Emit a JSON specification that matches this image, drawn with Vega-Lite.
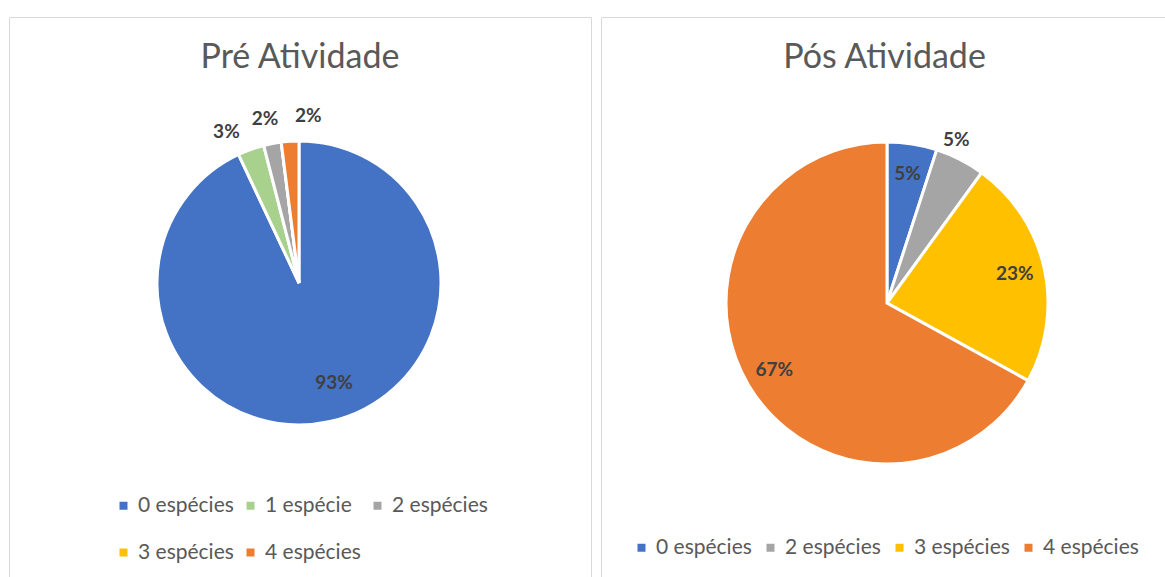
{
  "$schema": "https://vega.github.io/schema/vega-lite/v6.json",
  "padding": {"left": 8, "top": 16, "right": 0, "bottom": 0},
  "background": "white",
  "datasets": {
    "pre": [
      {"cat": "0 espécies", "pct": 0.93},
      {"cat": "1 espécie", "pct": 0.03},
      {"cat": "2 espécies", "pct": 0.02},
      {"cat": "3 espécies", "pct": 0.0},
      {"cat": "4 espécies", "pct": 0.02}
    ],
    "pos": [
      {"cat": "0 espécies", "pct": 0.05},
      {"cat": "2 espécies", "pct": 0.05},
      {"cat": "3 espécies", "pct": 0.23},
      {"cat": "4 espécies", "pct": 0.67}
    ]
  },
  "spacing": 8,
  "resolve": {"scale": {"color": "independent", "theta": "independent"}, "legend": {"color": "independent"}},
  "hconcat": [
    {
      "width": 582,
      "height": 561,
      "title": {"text": "Pré Atividade", "offset": -85, "baseline": "alphabetic"},
      "data": {"name": "pre"},
      "encoding": {
        "theta": {"field": "pct", "type": "quantitative", "stack": true},
        "order": {"field": "cat", "type": "ordinal"},
        "x": {"value": 290},
        "y": {"value": 266}
      },
      "layer": [
        {
          "mark": {"type": "arc", "outerRadius": 142, "stroke": "white", "strokeWidth": 3},
          "encoding": {
            "color": {
              "field": "cat", "type": "nominal",
              "scale": {"domain": ["0 espécies", "1 espécie", "2 espécies", "3 espécies", "4 espécies"],
                        "range": ["#4472C4", "#A9D18E", "#A5A5A5", "#FFC000", "#ED7D31"]},
              "legend": {"title": null, "orient": "none", "legendX": 104, "legendY": 478, "direction": "horizontal", "columns": 3, "gridAlign": "all", "columnPadding": 6, "rowPadding": 25}
            }
          }
        },
        {
          "mark": {"type": "text", "radius": 106, "dx": 12, "dy": -3, "fontWeight": "bold", "fontSize": 19, "color": "#404040"},
          "encoding": {"text": {"condition": {"test": "datum.pct < 0.1", "value": ""}, "field": "pct", "type": "quantitative", "format": ".0%"}}
        },
        {
          "mark": {"type": "text", "radius": 170, "dx": -15, "dy": 9, "fontWeight": "bold", "fontSize": 19, "color": "#404040"},
          "encoding": {"text": {"condition": {"test": "datum.cat != '1 espécie'", "value": ""}, "field": "pct", "type": "quantitative", "format": ".0%"}}
        },
        {
          "mark": {"type": "text", "radius": 170, "dx": -2, "dy": 3, "fontWeight": "bold", "fontSize": 19, "color": "#404040"},
          "encoding": {"text": {"condition": {"test": "datum.cat != '2 espécies'", "value": ""}, "field": "pct", "type": "quantitative", "format": ".0%"}}
        },
        {
          "mark": {"type": "text", "radius": 170, "dx": 20, "dy": 3, "fontWeight": "bold", "fontSize": 19, "color": "#404040"},
          "encoding": {"text": {"condition": {"test": "datum.cat != '4 espécies'", "value": ""}, "field": "pct", "type": "quantitative", "format": ".0%"}}
        }
      ]
    },
    {
      "width": 567,
      "height": 561,
      "title": {"text": "Pós Atividade", "offset": -85, "baseline": "alphabetic"},
      "data": {"name": "pos"},
      "encoding": {
        "theta": {"field": "pct", "type": "quantitative", "stack": true},
        "order": {"field": "cat", "type": "ordinal"},
        "x": {"value": 286},
        "y": {"value": 286}
      },
      "layer": [
        {
          "mark": {"type": "arc", "outerRadius": 161, "stroke": "white", "strokeWidth": 3},
          "encoding": {
            "color": {
              "field": "cat", "type": "nominal",
              "scale": {"domain": ["0 espécies", "2 espécies", "3 espécies", "4 espécies"],
                        "range": ["#4472C4", "#A5A5A5", "#FFC000", "#ED7D31"]},
              "legend": {"title": null, "orient": "none", "legendX": 30, "legendY": 520, "direction": "horizontal", "columns": 4, "gridAlign": "all", "columnPadding": 8}
            }
          }
        },
        {
          "mark": {"type": "text", "radius": 131, "fontWeight": "bold", "fontSize": 19, "color": "#404040"},
          "encoding": {"text": {"condition": {"test": "datum.cat == '2 espécies'", "value": ""}, "field": "pct", "type": "quantitative", "format": ".0%"}}
        },
        {
          "mark": {"type": "text", "radius": 177, "dx": -11, "dy": -5, "fontWeight": "bold", "fontSize": 19, "color": "#404040"},
          "encoding": {"text": {"condition": {"test": "datum.cat != '2 espécies'", "value": ""}, "field": "pct", "type": "quantitative", "format": ".0%"}}
        }
      ]
    }
  ],
  "config": {
    "font": "Lato",
    "view": {"stroke": "#D9D9D9", "strokeWidth": 1},
    "title": {"fontSize": 34, "fontWeight": "normal", "color": "#595959", "anchor": "middle", "font": "Lato"},
    "legend": {"labelFontSize": 21, "labelColor": "#595959", "labelFont": "Lato", "symbolType": "square", "symbolSize": 64, "symbolStrokeWidth": 0, "labelOffset": 4}
  }
}
